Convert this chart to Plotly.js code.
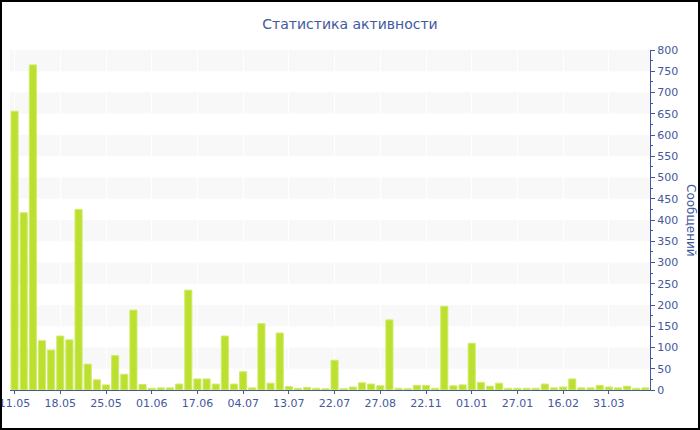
<!DOCTYPE html>
<html>
<head>
<meta charset="utf-8">
<script src="https://cdn.plot.ly/plotly-3.0.1.min.js"></script>
<style>
  html, body { margin: 0; padding: 0; background: #fff; }
  #wrap { position: relative; width: 700px; height: 430px; }
  #chart { width: 700px; height: 430px; }
  #frame { position: absolute; left: 0; top: 0; width: 700px; height: 430px;
           box-sizing: border-box; border: 2px solid #000; pointer-events: none; }
</style>
</head>
<body>
<div id="wrap">
  <div id="chart"></div>
  <div id="frame"></div>
</div>
<script>
// Messages per period (one bar per period, in chronological order)
const messages = [
  656, 417, 765, 116, 94, 127, 118, 425, 61, 24,
  12, 81, 37, 188, 13, 4, 5, 5, 14, 235,
  26, 26, 14, 127, 14, 43, 5, 156, 16, 134,
  8, 4, 6, 4, 3, 70, 3, 7, 17, 14,
  10, 165, 4, 3, 11, 11, 4, 197, 10, 12,
  110, 18, 9, 16, 4, 4, 4, 4, 14, 5,
  7, 26, 5, 5, 11, 7, 5, 9, 4, 5
];

// Date labels shown under every fifth bar
const tickPositions = [0, 5, 10, 15, 20, 25, 30, 35, 40, 45, 50, 55, 60, 65];
const tickLabels = ['11.05', '18.05', '25.05', '01.06', '17.06', '04.07', '13.07',
                    '22.07', '27.08', '22.11', '01.01', '27.01', '16.02', '31.03'];

const periodIndex = messages.map((_, i) => i);

const axisBlue = '#4458a0';
const font = 'DejaVu Sans, Verdana, sans-serif';

// Alternating horizontal background bands every 50 messages
const bands = [];
for (let y = 50; y < 800; y += 100) {
  bands.push({
    type: 'rect', xref: 'paper', yref: 'y', x0: 0, x1: 1, y0: y, y1: y + 50,
    fillcolor: '#f8f8f8', line: { width: 0 }, layer: 'below'
  });
}

const trace = {
  type: 'bar',
  x: periodIndex,
  y: messages,
  marker: { color: '#bce030', line: { color: '#d2ea6c', width: 1 } },
  hoverinfo: 'y'
};

const layout = {
  width: 700, height: 430,
  margin: { l: 10, r: 50, t: 50, b: 40 },
  paper_bgcolor: '#fff', plot_bgcolor: '#fff',
  bargap: 0.22,
  showlegend: false,
  title: {
    text: 'Статистика активности',
    font: { family: font, size: 14, color: axisBlue },
    x: 0.5, xanchor: 'center', y: 0.945, yanchor: 'middle'
  },
  xaxis: {
    range: [-0.5, messages.length - 0.5],
    tickmode: 'array', tickvals: tickPositions, ticktext: tickLabels,
    ticklabeloverflow: 'allow',
    showgrid: true, gridcolor: '#ffffff', gridwidth: 1,
    showline: true, linecolor: axisBlue, linewidth: 1,
    ticks: 'outside', ticklen: 3, tickcolor: axisBlue,
    tickfont: { family: font, size: 11, color: axisBlue },
    zeroline: false, fixedrange: true
  },
  yaxis: {
    side: 'right',
    range: [0, 800], dtick: 50, tick0: 0,
    showgrid: false, zeroline: false,
    showline: true, linecolor: axisBlue, linewidth: 1,
    ticks: 'outside', ticklen: 4, tickcolor: axisBlue,
    minor: { ticks: 'outside', dtick: 25, ticklen: 2, tickcolor: axisBlue, showgrid: false },
    tickfont: { family: font, size: 11, color: axisBlue },
    fixedrange: true
  },
  shapes: bands,
  annotations: [{
    text: 'Сообщений', xref: 'paper', yref: 'paper',
    x: 1, y: 0.5, xshift: 41, xanchor: 'center', yanchor: 'middle',
    textangle: 90, showarrow: false,
    font: { family: font, size: 12, color: axisBlue }
  }]
};

Plotly.newPlot('chart', [trace], layout, { displayModeBar: false, staticPlot: true });
</script>
</body>
</html>
